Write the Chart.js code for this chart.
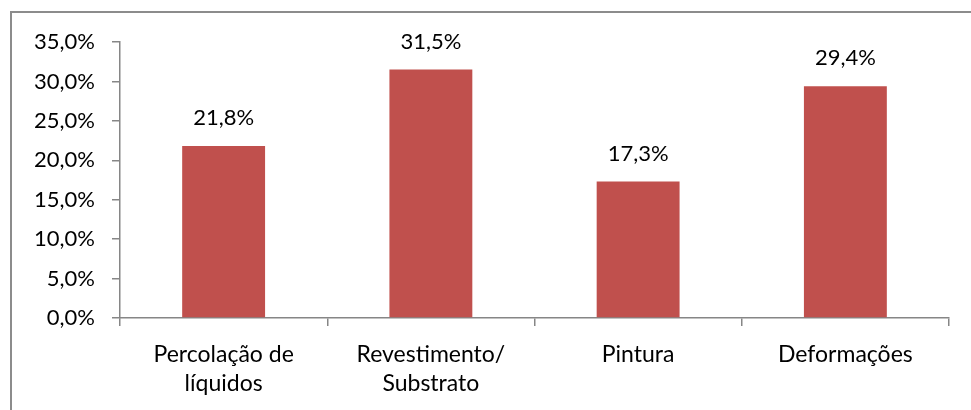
<!DOCTYPE html>
<html>
<head>
<meta charset="utf-8">
<script src="https://cdn.jsdelivr.net/npm/chart.js@4/dist/chart.umd.min.js"></script>
<style>
    html, body { margin: 0; padding: 0; background: #fff; }
    #wrap { width: 971px; height: 410px; position: relative; }
</style>
</head>
<body>
<div id="wrap"><canvas id="grafico"></canvas></div>
<script>
    // Categorias e valores (%)
    var categorias = [['Percolação de', 'líquidos'], ['Revestimento/', 'Substrato'], 'Pintura', 'Deformações'];
    var valores = [21.8, 31.5, 17.3, 29.4];
    var yTicks = [0, 5, 10, 15, 20, 25, 30, 35];

    function pct(v, dec) {
        return v.toFixed(dec).replace('.', ',') + '%';
    }

    // Moldura (apenas esquerda e topo visíveis)
    var moldura = {
        id: 'moldura',
        beforeDraw: function (chart) {
            var ctx = chart.ctx;
            ctx.save();
            ctx.strokeStyle = '#8c8c8c';
            ctx.lineWidth = 2;
            ctx.beginPath();
            ctx.moveTo(11, chart.height);
            ctx.lineTo(11, 12);
            ctx.lineTo(chart.width, 12);
            ctx.stroke();
            ctx.restore();
        }
    };

    // Rótulos de dados acima das barras
    var rotulos = {
        id: 'rotulos',
        afterDatasetsDraw: function (chart) {
            var ctx = chart.ctx;
            var meta = chart.getDatasetMeta(0);
            ctx.save();
            ctx.font = '22px Lato, Carlito, sans-serif';
            ctx.fillStyle = '#000';
            ctx.textAlign = 'center';
            ctx.textBaseline = 'alphabetic';
            meta.data.forEach(function (bar, i) {
                ctx.fillText(pct(valores[i], 1), bar.x, bar.y - 21);
            });
            ctx.restore();
        }
    };

    new Chart(document.getElementById('grafico').getContext('2d'), {
        type: 'bar',
        data: {
            labels: categorias,
            datasets: [{
                data: valores,
                backgroundColor: '#c0504d',
                borderWidth: 0,
                categoryPercentage: 1,
                barPercentage: 0.4
            }]
        },
        options: {
            responsive: true,
            maintainAspectRatio: false,
            animation: false,
            layout: { padding: { left: 10, top: 42, right: 22, bottom: 0 } },
            plugins: {
                legend: { display: false },
                tooltip: { enabled: false }
            },
            scales: {
                x: {
                    afterFit: function (s) { s.height = 92; },
                    grid: {
                        offset: true,
                        drawOnChartArea: false,
                        drawTicks: true,
                        tickLength: 8,
                        color: '#868686',
                        lineWidth: 1.5
                    },
                    border: { color: '#868686', width: 1.5 },
                    ticks: {
                        color: '#000',
                        font: { family: 'Lato, Carlito, sans-serif', size: 23, lineHeight: 1.25 },
                        padding: 14,
                        maxRotation: 0
                    }
                },
                y: {
                    min: 0,
                    max: 35,
                    afterFit: function (s) { s.width = 110; },
                    afterBuildTicks: function (s) {
                        s.ticks = yTicks.map(function (v) { return { value: v }; });
                    },
                    grid: {
                        drawOnChartArea: false,
                        drawTicks: true,
                        tickLength: 8,
                        color: '#868686',
                        lineWidth: 1.5
                    },
                    border: { color: '#868686', width: 1.5 },
                    ticks: {
                        color: '#000',
                        font: { family: 'Lato, Carlito, sans-serif', size: 22 },
                        padding: 17,
                        callback: function (v) { return pct(v, 1); }
                    }
                }
            }
        },
        plugins: [moldura, rotulos]
    });
</script>
</body>
</html>
